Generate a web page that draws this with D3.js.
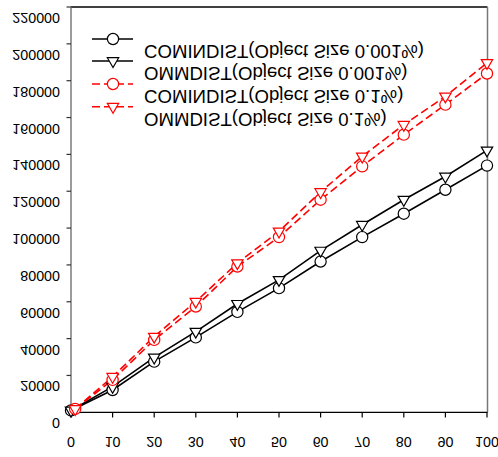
<!DOCTYPE html>
<html><head><meta charset="utf-8">
<script src="https://cdn.jsdelivr.net/npm/d3@7"></script>
<style>body{margin:0;background:#fff}svg{display:block}</style>
</head><body>
<svg id="c" width="498" height="457"></svg>
<script>
const xTicks = [0,10,20,30,40,50,60,70,80,90,100];
const yTicks = [0,20000,40000,60000,80000,100000,120000,140000,160000,180000,200000,220000];
const xBlack = [0,10,20,30,40,50,60,70,80,90,100];
const xRed = [1,10,20,30,40,50,60,70,80,90,100];
const cominBlack = [1000,12100,27500,40650,54500,67400,81850,95100,107800,120800,133900];
const ommBlack = [1000,13900,29800,43800,58900,71900,87800,101800,115400,128000,142200];
const cominRed = [1800,17600,39300,57400,79100,95100,115400,133500,150700,167000,183900];
const ommRed = [1800,19300,41100,60100,81000,98200,119600,138900,156100,171500,189700];
const labels = ["COMINDIST(Object Size 0.001%)","OMMDIST(Object Size 0.001%)","COMINDIST(Object Size 0.1%)","OMMDIST(Object Size 0.1%)"];

const series = [
  {name:labels[0], xs:xBlack, ys:cominBlack, color:"#000", dash:null, marker:"circle"},
  {name:labels[1], xs:xBlack, ys:ommBlack, color:"#000", dash:null, marker:"tri"},
  {name:labels[2], xs:xRed, ys:cominRed, color:"#ff0000", dash:"8,4", marker:"circle"},
  {name:labels[3], xs:xRed, ys:ommRed, color:"#ff0000", dash:"8,4", marker:"tri"}
];

const svg = d3.select("#c");
const x = d3.scaleLinear().domain([0,100]).range([71,487]);
const y = d3.scaleLinear().domain([0,220000]).range([412.3,7]);
const font = "'Liberation Sans', Arial, sans-serif";

// frame
svg.append("line").attr("x1",71).attr("x2",487.5).attr("y1",7).attr("y2",7).attr("stroke","#000").attr("stroke-width",1.3);
svg.append("line").attr("x1",487.5).attr("x2",487.5).attr("y1",7).attr("y2",412.3).attr("stroke","#777").attr("stroke-width",1.5);

// y axis
const gy = svg.append("g");
gy.append("line").attr("x1",71).attr("x2",71).attr("y1",7).attr("y2",412.3).attr("stroke","#666").attr("stroke-width",1.3);
yTicks.forEach(t=>{
  gy.append("line").attr("x1",66.5).attr("x2",71).attr("y1",y(t)).attr("y2",y(t)).attr("stroke","#333").attr("stroke-width",1.2);
  gy.append("text").attr("transform",`translate(60,${y(t)+11}) scale(1,-1)`)
    .attr("text-anchor","end").attr("dy","0.35em").attr("font-family",font).attr("font-size",14.3).attr("fill","#000").text(d3.format("d")(t));
});

// x axis
const gx = svg.append("g");
gx.append("line").attr("x1",71).attr("x2",487.5).attr("y1",412.3).attr("y2",412.3).attr("stroke","#000").attr("stroke-width",1.3);
xTicks.forEach(t=>{
  gx.append("line").attr("x1",x(t)).attr("x2",x(t)).attr("y1",412.3).attr("y2",417.5).attr("stroke","#000").attr("stroke-width",1.2);
  gx.append("text").attr("transform",`translate(${x(t)},441.7) scale(1,-1)`)
    .attr("text-anchor","middle").attr("dy","0.35em").attr("font-family",font).attr("font-size",14.3).attr("fill","#000").text(t);
});

const triPath = d3.symbol().type(d3.symbolTriangle).size(56)();
function drawMarker(g, cx, cy, s){
  if(s.marker==="circle"){
    g.append("circle").attr("cx",cx).attr("cy",cy).attr("r",5.6).attr("fill","#fff").attr("stroke",s.color).attr("stroke-width",1.2);
  } else {
    g.append("path").attr("d",triPath).attr("transform",`translate(${cx},${cy}) rotate(180)`).attr("fill","#fff").attr("stroke",s.color).attr("stroke-width",1.2);
  }
}

const line = d3.line();
series.forEach(s=>{
  const pts = s.xs.map((v,i)=>[x(v), y(s.ys[i])]);
  svg.append("path").attr("d",line(pts)).attr("fill","none").attr("stroke",s.color).attr("stroke-width",1.6)
    .attr("stroke-dasharray",s.dash);
});
series.forEach(s=>{
  const g = svg.append("g");
  s.xs.forEach((v,i)=>drawMarker(g, x(v), y(s.ys[i]), s));
});

// legend
const rowY = [39,61,84,106.7];
series.forEach((s,i)=>{
  const g = svg.append("g");
  g.append("line").attr("x1",92).attr("x2",133).attr("y1",rowY[i]).attr("y2",rowY[i]).attr("stroke",s.color).attr("stroke-width",1.6).attr("stroke-dasharray",s.dash);
  drawMarker(g,113,rowY[i],s);
  g.append("text").attr("transform",`translate(144,${rowY[i]+13}) scale(1,-1)`)
    .attr("dy","0.35em").attr("font-family",font).attr("font-size",18.6).attr("fill","#000").text(s.name);
});
</script>
</body></html>
